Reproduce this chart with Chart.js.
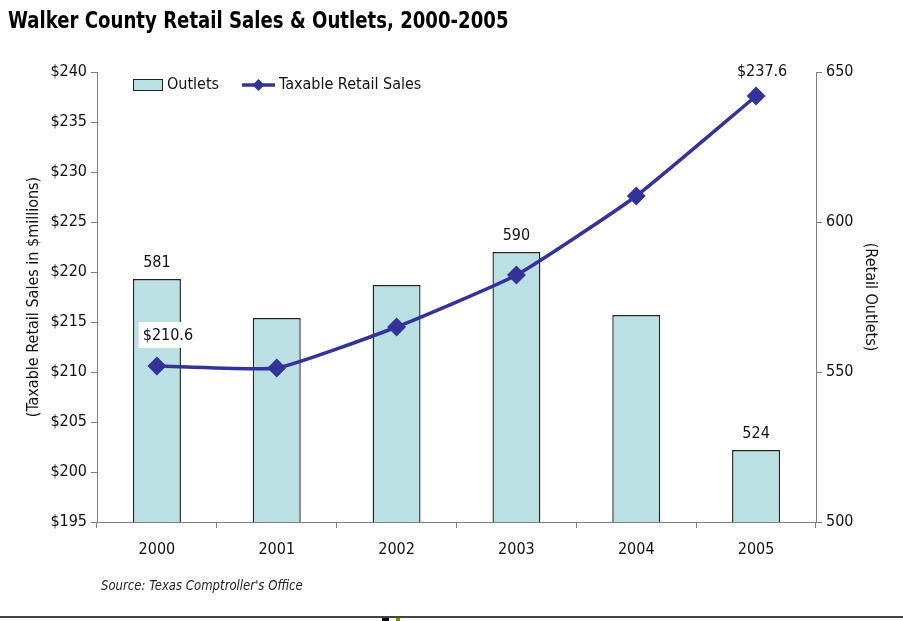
<!DOCTYPE html>
<html>
<head>
<meta charset="utf-8">
<script src="https://cdn.jsdelivr.net/npm/chart.js@4.4.1/dist/chart.umd.min.js"></script>
<style>
  body { margin: 0; background: #fff; }
  #wrap { position: relative; width: 903px; height: 621px; overflow: hidden; }
  #title { position: absolute; left: 8px; top: 7px; font: bold 23px 'Liberation Sans Narrow', 'DejaVu Sans Condensed', Arial, sans-serif; color: #000; white-space: nowrap; transform: scaleX(0.876); transform-origin: left top; }
  #source { position: absolute; left: 101px; top: 577px; font: italic 14px 'Liberation Sans Narrow', 'DejaVu Sans Condensed', Arial, sans-serif; color: #222; white-space: nowrap; transform: scaleX(0.93); transform-origin: left top; }
  #rule { position: absolute; left: 0; top: 616px; width: 903px; height: 2px; background: #444; }
  .mark { position: absolute; top: 618px; height: 3px; }
  #c { position: absolute; left: 0; top: 0; }
</style>
</head>
<body>
<div id="wrap">
  <canvas id="c" width="903" height="621"></canvas>
  <div id="title">Walker County Retail Sales &amp; Outlets, 2000-2005</div>
  <div id="source">Source: Texas Comptroller's Office</div>
  <div id="rule"></div>
  <div class="mark" style="left:382px;width:7px;background:#000"></div>
  <div class="mark" style="left:396px;width:4px;background:#8a8a00"></div>
</div>
<script>
const years = ["2000", "2001", "2002", "2003", "2004", "2005"];
const outlets = [581, 568, 579, 590, 569, 524];
const sales = [210.6, 210.4, 214.5, 219.7, 227.6, 237.6];
const outletLabels = [581, null, null, 590, null, 524];
const salesLabels = [210.6, null, null, null, null, 237.6];

const FONT = "'Liberation Sans Narrow', 'DejaVu Sans Condensed', Arial, sans-serif";
const AXIS = "#7f7f7f";

// legend drawn inside the plot, top left
const legendInside = {
  id: "legendInside",
  afterDraw(chart) {
    const ctx = chart.ctx;
    ctx.save();
    ctx.font = "16px " + FONT;
    ctx.textBaseline = "middle";
    ctx.fillStyle = "#bbe0e3";
    ctx.strokeStyle = "#222";
    ctx.lineWidth = 1;
    ctx.fillRect(133.5, 79.5, 29, 11);
    ctx.strokeRect(133.5, 79.5, 29, 11);
    ctx.fillStyle = "#111";
    ctx.fillText("Outlets", 167, 85);
    ctx.strokeStyle = "#333399";
    ctx.lineWidth = 3.5;
    ctx.beginPath();
    ctx.moveTo(242, 85);
    ctx.lineTo(275, 85);
    ctx.stroke();
    ctx.fillStyle = "#333399";
    ctx.beginPath();
    ctx.moveTo(258.5, 79);
    ctx.lineTo(264.5, 85);
    ctx.lineTo(258.5, 91);
    ctx.lineTo(252.5, 85);
    ctx.closePath();
    ctx.fill();
    ctx.fillStyle = "#111";
    ctx.fillText("Taxable Retail Sales", 279, 85);
    ctx.restore();
  }
};

// value labels above the bars and the first/last points
const valueLabels = {
  id: "valueLabels",
  afterDatasetsDraw(chart) {
    const ctx = chart.ctx;
    ctx.save();
    ctx.font = "16px " + FONT;
    ctx.textAlign = "center";
    ctx.textBaseline = "bottom";
    const bars = chart.getDatasetMeta(1).data;
    bars.forEach((b, i) => {
      if (outletLabels[i] == null) return;
      ctx.fillStyle = "#111";
      ctx.fillText(String(outletLabels[i]), b.x, b.y - 8);
    });
    const pts = chart.getDatasetMeta(0).data;
    pts.forEach((p, i) => {
      if (salesLabels[i] == null) return;
      const txt = "$" + salesLabels[i].toFixed(1);
      const first = i === 0;
      const dx = first ? 11 : 6;
      const dy = first ? 22 : 16;
      const w = ctx.measureText(txt).width;
      if (first) {
        ctx.fillStyle = "#fff";
        ctx.fillRect(p.x + dx - w / 2 - 4, p.y - dy - 22, w + 8, 26);
      }
      ctx.fillStyle = "#111";
      ctx.fillText(txt, p.x + dx, p.y - dy);
    });
    ctx.restore();
  }
};

new Chart(document.getElementById("c"), {
  data: {
    labels: years,
    datasets: [
      {
        type: "line",
        label: "Taxable Retail Sales",
        data: sales,
        yAxisID: "ySales",
        borderColor: "#333399",
        backgroundColor: "#333399",
        borderWidth: 3.5,
        tension: 0.15,
        pointStyle: "rectRot",
        pointRadius: 7,
        pointHoverRadius: 7,
        order: 0
      },
      {
        type: "bar",
        label: "Outlets",
        data: outlets,
        yAxisID: "yOutlets",
        backgroundColor: "#bbe0e3",
        borderColor: "#222",
        borderWidth: 1.4,
        inflateAmount: 0,
        categoryPercentage: 1,
        barPercentage: 0.4,
        order: 1
      }
    ]
  },
  options: {
    responsive: false,
    animation: false,
    layout: { padding: { top: 72, left: 0, right: 0, bottom: 0 } },
    plugins: {
      legend: { display: false },
      tooltip: { enabled: false }
    },
    scales: {
      x: {
        offset: true,
        grid: { offset: true, drawOnChartArea: false, color: AXIS, tickLength: 6 },
        border: { color: AXIS },
        ticks: { color: "#111", font: { family: FONT, size: 16 }, padding: 12 },
        afterFit(s) { s.height = 99; }
      },
      ySales: {
        position: "left",
        min: 195,
        max: 240,
        ticks: {
          stepSize: 5,
          color: "#111",
          font: { family: FONT, size: 16 },
          padding: 4,
          callback: v => "$" + v
        },
        grid: { drawOnChartArea: false, color: AXIS, tickLength: 6 },
        border: { color: AXIS },
        title: {
          display: true,
          text: "(Taxable Retail Sales in $millions)",
          color: "#111",
          font: { family: FONT, size: 16 },
          padding: { top: 24, bottom: 0 }
        },
        afterFit(s) { s.width = 97; }
      },
      yOutlets: {
        position: "right",
        min: 500,
        max: 650,
        ticks: { stepSize: 50, color: "#111", font: { family: FONT, size: 16 }, padding: 4 },
        grid: { drawOnChartArea: false, color: AXIS, tickLength: 6 },
        border: { color: AXIS },
        title: {
          display: true,
          text: "(Retail Outlets)",
          color: "#111",
          font: { family: FONT, size: 16 },
          padding: { top: 23, bottom: 0 }
        },
        afterFit(s) { s.width = 87; }
      }
    }
  },
  plugins: [legendInside, valueLabels]
});
</script>
</body>
</html>
